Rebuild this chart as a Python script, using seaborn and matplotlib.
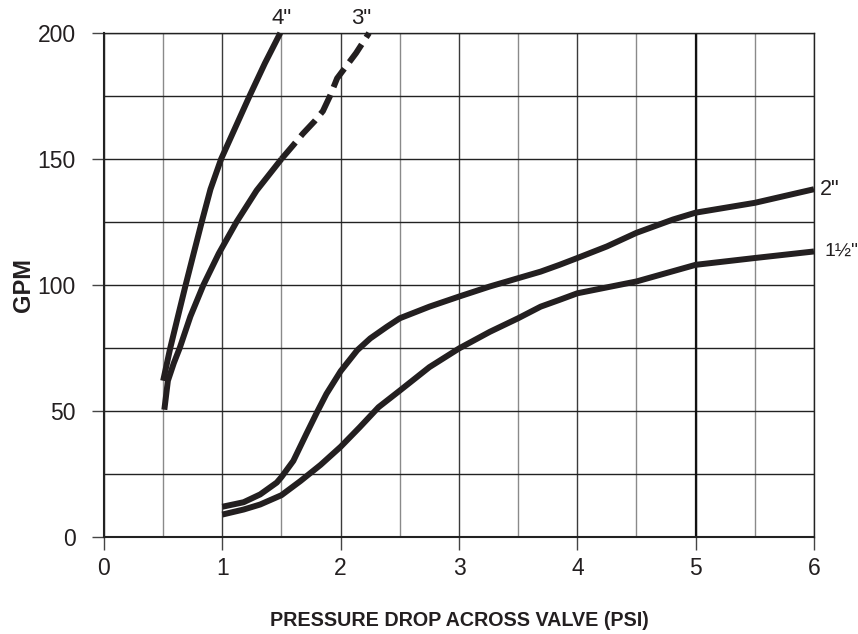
import numpy as np
import pandas as pd
import matplotlib
matplotlib.use("Agg")
import matplotlib.pyplot as plt
from matplotlib.ticker import MultipleLocator
import seaborn as sns

# valve curves (psi, gpm)
x_4in = [0.5, 0.56, 0.63, 0.69, 0.755, 0.826, 0.9, 0.99, 1.11, 1.23, 1.36, 1.49]
y_4in = [62, 75, 88.5, 100, 112, 125, 138, 150, 162.5, 175, 188, 200]

x_3in = [0.51, 0.54, 0.59, 0.64, 0.73, 0.84, 0.97, 1.12, 1.29, 1.5]
y_3in = [50.5, 62, 69, 75, 87.5, 100, 112.5, 125, 137.5, 150]
# upper part of the 3" curve is dashed
x_3in_dash = [1.5, 1.6, 1.68, 1.78, 1.85, 1.91, 1.97, 2.05, 2.13, 2.24]
y_3in_dash = [150, 155.5, 160, 165, 169, 175, 182, 187, 192, 200]

x_2in = [1.0, 1.18, 1.32, 1.46, 1.5, 1.6, 1.71, 1.8, 1.88, 2.0, 2.14, 2.25,
         2.39, 2.5, 2.75, 3.0, 3.26, 3.5, 3.69, 3.85, 4.0, 4.25, 4.5, 4.81,
         5.0, 5.5, 6.0]
y_2in = [12, 13.8, 16.9, 21.6, 23.8, 30.2, 40.9, 49.5, 56.8, 65.8, 74.1, 78.8,
         83.4, 86.8, 91.4, 95.4, 99.4, 102.7, 105.3, 108, 110.7, 115.3, 120.7,
         126, 128.7, 132.6, 138]

x_15in = [1.0, 1.18, 1.32, 1.5, 1.66, 1.83, 2.0, 2.16, 2.32, 2.5, 2.75, 3.0,
          3.26, 3.5, 3.69, 3.85, 4.0, 4.5, 5.0, 5.5, 6.0]
y_15in = [8.9, 10.9, 12.9, 16.6, 22.2, 28.6, 35.8, 43.5, 51.5, 58.1, 67.4,
          74.8, 81.4, 86.8, 91.4, 94.1, 96.7, 101.4, 108, 110.7, 113.3]

sns.set_style("white")
plt.rcParams["font.family"] = ["Liberation Sans", "DejaVu Sans"]
ink = "#231f20"

fig = plt.figure(figsize=(8.58, 6.34), dpi=100)
ax = fig.add_axes([0.1212, 0.153, 0.8275, 0.795])

ax.set_xlim(0, 6)
ax.set_ylim(0, 200)
ax.xaxis.set_major_locator(MultipleLocator(1))
ax.xaxis.set_minor_locator(MultipleLocator(0.5))
ax.yaxis.set_major_locator(MultipleLocator(50))
ax.yaxis.set_minor_locator(MultipleLocator(25))
ax.grid(True, which="major", axis="x", color="#3a3a3a", lw=1.0)
ax.grid(True, which="minor", axis="x", color="#8a8a8a", lw=1.0)
ax.grid(True, which="both", axis="y", color="#222222", lw=1.0)
ax.axvline(5, color="#111111", lw=1.6, zorder=0.6)
ax.set_axisbelow(True)

lw = 4.3
for xs, ys in [(x_4in, y_4in), (x_3in, y_3in), (x_2in, y_2in), (x_15in, y_15in)]:
    df = pd.DataFrame({"psi": xs, "gpm": ys})
    sns.lineplot(data=df, x="psi", y="gpm", ax=ax, color=ink, lw=lw,
                 sort=False, estimator=None, clip_on=False,
                 solid_capstyle="butt", solid_joinstyle="round")

df = pd.DataFrame({"psi": x_3in_dash, "gpm": y_3in_dash})
sns.lineplot(data=df, x="psi", y="gpm", ax=ax, color=ink, lw=lw,
             sort=False, estimator=None, clip_on=False,
             linestyle=(0, (3.6, 1.4)), dash_capstyle="butt")

for s in ["left", "bottom", "top", "right"]:
    ax.spines[s].set_color("#222222")
    ax.spines[s].set_linewidth(1.0)
ax.spines["left"].set_linewidth(1.5)
ax.spines["bottom"].set_linewidth(1.5)

ax.tick_params(axis="both", which="major", width=1.0, color="#444444",
               labelsize=16.5, labelcolor=ink)
ax.tick_params(axis="both", which="minor", length=0)
ax.tick_params(axis="x", direction="out", bottom=True, length=9.4, pad=5)
ax.tick_params(axis="y", direction="out", left=True, length=8.3, pad=12)

ax.set_xlabel("PRESSURE DROP ACROSS VALVE (PSI)", fontsize=14.2,
              fontweight="bold", labelpad=22, color=ink)
ax.set_ylabel("GPM", fontsize=17, fontweight="bold", labelpad=2, color=ink)

ax.text(1.505, 203.5, '4"', fontsize=16, ha="center", va="baseline", color=ink)
ax.text(2.17, 203.5, '3"', fontsize=16, ha="center", va="baseline", color=ink)
ax.text(6.05, 138, '2"', fontsize=15.5, ha="left", va="center", color=ink)
ax.text(6.09, 113.5, '1½"', fontsize=14, ha="left", va="center", color=ink)

fig.savefig("out.png", dpi=100)
